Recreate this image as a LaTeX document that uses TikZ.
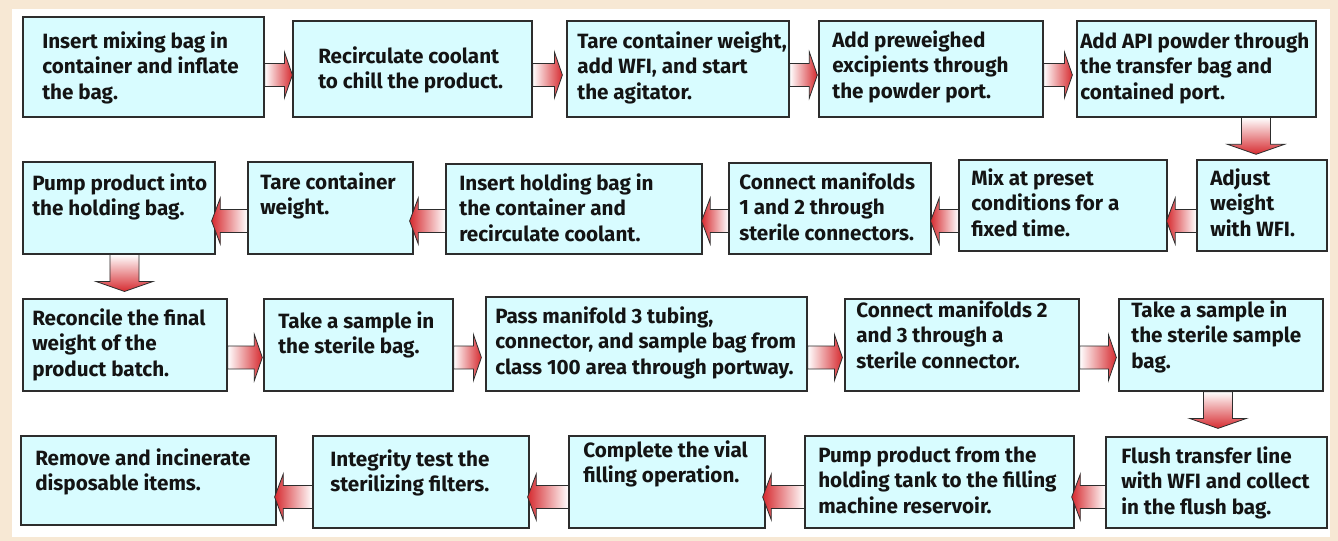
\documentclass[tikz,border=0pt]{standalone}
\usepackage{fontspec}
\setmainfont{Fira Sans}
\usetikzlibrary{calc,fit}
\definecolor{beige}{RGB}{247,232,212}
\definecolor{boxfill}{RGB}{216,252,255}
\definecolor{boxline}{RGB}{45,45,45}
\definecolor{arrred}{RGB}{214,43,48}
\definecolor{txtcol}{RGB}{20,20,20}
% block arrow: #1 shading, #2 from, #3 to, #4 tip gap, #5 shaft half width, #6 head half width, #7 head length
\newcommand\barrow[7]{%
  \coordinate (ba) at #2;
  \coordinate (bt0) at #3;
  \coordinate (bt) at ($(bt0)!#4!(ba)$);
  \coordinate (bh) at ($(bt)!#7!(ba)$);
  \shade[flowarrow,#1] ($(ba)!#5!90:(bt)$) -- ($(bh)!#5!90:(bt)$) -- ($(bh)!#6!90:(bt)$) -- (bt)
    -- ($(bh)!#6!-90:(bt)$) -- ($(bh)!#5!-90:(bt)$) -- ($(ba)!#5!-90:(bt)$) -- cycle;}
\newcommand\harrowR[3]{\barrow{left color=white,right color=arrred}{#1}{#2}{#3}{8.6pt}{17.25pt}{6pt}}
\newcommand\harrowL[3]{\barrow{left color=arrred,right color=white}{#1}{#2}{#3}{8.6pt}{17.25pt}{6.5pt}}
\newcommand\varrowD[3]{\barrow{top color=white,bottom color=arrred}{#1}{#2}{#3}{10.9pt}{21.4pt}{7.5pt}}
\begin{document}
\begin{tikzpicture}[x=0.75pt,y=-0.75pt,
  box/.style={draw=boxline, line width=0.9pt, fill=boxfill, inner sep=0pt},
  txt/.style={anchor=north west, inner sep=0pt, align=left, text=txtcol,
    font=\bfseries\fontsize{15.5}{19.1}\selectfont, yshift=13.37pt},
  flowarrow/.style={draw=boxline, line width=0.6pt}]
\useasboundingbox (0,0) rectangle (1338,541);
\fill[beige] (0,0) rectangle (1338,541);
\fill[white] (12,9) rectangle (1330,537);

% Row 1
\node[box, fit={(23,17) (264,117)}] (B1) {};
\node[txt] (B1t) at (42,48) {\strut Insert mixing bag in\\container and inflate\\the bag.};
\node[box, fit={(293,21) (532,117)}] (B2) {};
\node[txt] (B2t) at (318,63) {\strut Recirculate coolant\\to chill the product.};
\node[box, fit={(567,21) (789,117)}] (B3) {};
\node[txt] (B3t) at (577,48) {\strut Tare container weight,\\add WFI, and start\\the agitator.};
\node[box, fit={(819,21) (1043,117)}] (B4) {};
\node[txt] (B4t) at (832,47) {\strut Add preweighed\\excipients through\\the powder port.};
\node[box, fit={(1077,21) (1316,117)}] (B5) {};
\node[txt] (B5t) at (1080,48) {\strut Add API powder through\\the transfer bag and\\contained port.};

% Row 2
\node[box, fit={(23,162) (215,254)}] (C1) {};
\node[txt] (C1t) at (32,190) {\strut Pump product into\\the holding bag.};
\node[box, fit={(248,162) (413,254)}] (C2) {};
\node[txt] (C2t) at (260,189) {\strut Tare container\\weight.};
\node[box, fit={(446,164) (702,254)}] (C3) {};
\node[txt] (C3t) at (459,190) {\strut Insert holding bag in\\the container and\\recirculate coolant.};
\node[box, fit={(729,163) (931,254)}] (C4) {};
\node[txt] (C4t) at (739,189) {\strut Connect manifolds\\1 and 2 through\\sterile connectors.};
\node[box, fit={(959,160) (1167,251)}] (C5) {};
\node[txt] (C5t) at (971,185) {\strut Mix at preset\\conditions for a\\fixed time.};
\node[box, fit={(1197,160) (1327,251)}] (C6) {};
\node[txt] (C6t) at (1210,185) {\strut Adjust\\weight\\with WFI.};

% Row 3
\node[box, fit={(23,299) (227,391)}] (D1) {};
\node[txt] (D1t) at (32,325) {\strut Reconcile the final\\weight of the\\product batch.};
\node[box, fit={(264,299) (453,391)}] (D2) {};
\node[txt] (D2t) at (278,328) {\strut Take a sample in\\the sterile bag.};
\node[box, fit={(486,297) (807,391)}] (D3) {};
\node[txt] (D3t) at (495,323) {\strut Pass manifold 3 tubing,\\connector, and sample bag from\\class 100 area through portway.};
\node[box, fit={(845,299) (1079,391)}] (D4) {};
\node[txt] (D4t) at (856,317) {\strut Connect manifolds 2\\and 3 through a\\sterile connector.};
\node[box, fit={(1119,299) (1323,391)}] (D5) {};
\node[txt] (D5t) at (1131,317) {\strut Take a sample in\\the sterile sample\\bag.};

% Row 4
\node[box, fit={(21,436) (276,525)}] (E1) {};
\node[txt] (E1t) at (35,465) {\strut Remove and incinerate\\disposable items.};
\node[box, fit={(313,436) (529,528)}] (E2) {};
\node[txt] (E2t) at (330,466) {\strut Integrity test the\\sterilizing filters.};
\node[box, fit={(569,436) (765,528)}] (E3) {};
\node[txt] (E3t) at (583,457) {\strut Complete the vial\\filling operation.};
\node[box, fit={(805,436) (1074,528)}] (E4) {};
\node[txt] (E4t) at (818,462) {\strut Pump product from the\\holding tank to the filling\\machine reservoir.};
\node[box, fit={(1106,437) (1327,528)}] (E5) {};
\node[txt] (E5t) at (1121,463) {\strut Flush transfer line\\with WFI and collect\\in the flush bag.};

% Arrows row 1
\harrowR{(B1.east |- 0,75)}{(B2.west |- 0,75)}{0pt}
\harrowR{(B2.east |- 0,75)}{(B3.west |- 0,75)}{3pt}
\harrowR{(B3.east |- 0,75)}{(B4.west |- 0,75)}{0.8pt}
\harrowR{(B4.east |- 0,75)}{(B5.west |- 0,75)}{3pt}
\varrowD{(B5.south -| 1256,0)}{(C6.north -| 1256,0)}{3.8pt}
% Arrows row 2
\harrowL{(C6.west |- 0,221)}{(C5.east |- 0,221)}{-0.8pt}
\harrowL{(C5.west |- 0,221)}{(C4.east |- 0,221)}{-0.8pt}
\harrowL{(C4.west |- 0,221)}{(C3.east |- 0,221)}{-0.8pt}
\harrowL{(C3.west |- 0,221)}{(C2.east |- 0,221)}{-3pt}
\harrowL{(C2.west |- 0,221)}{(C1.east |- 0,221)}{-3pt}
\varrowD{(C1.south -| 124.5,0)}{(D1.north -| 124.5,0)}{5.2pt}
% Arrows row 3
\harrowR{(D1.east |- 0,357.5)}{(D2.west |- 0,357.5)}{0.8pt}
\harrowR{(D2.east |- 0,357.5)}{(D3.west |- 0,357.5)}{3pt}
\harrowR{(D3.east |- 0,357.5)}{(D4.west |- 0,357.5)}{1.5pt}
\harrowR{(D4.east |- 0,357.5)}{(D5.west |- 0,357.5)}{1.5pt}
\varrowD{(D5.south -| 1218,0)}{(E5.north -| 1218,0)}{6pt}
% Arrows row 4
\harrowL{(E5.west |- 0,497)}{(E4.east |- 0,497)}{-2.2pt}
\harrowL{(E4.west |- 0,497)}{(E3.east |- 0,497)}{-2.2pt}
\harrowL{(E3.west |- 0,497)}{(E2.east |- 0,497)}{-1.5pt}
\harrowL{(E2.west |- 0,497)}{(E1.east |- 0,497)}{-1.5pt}
\end{tikzpicture}
\end{document}
